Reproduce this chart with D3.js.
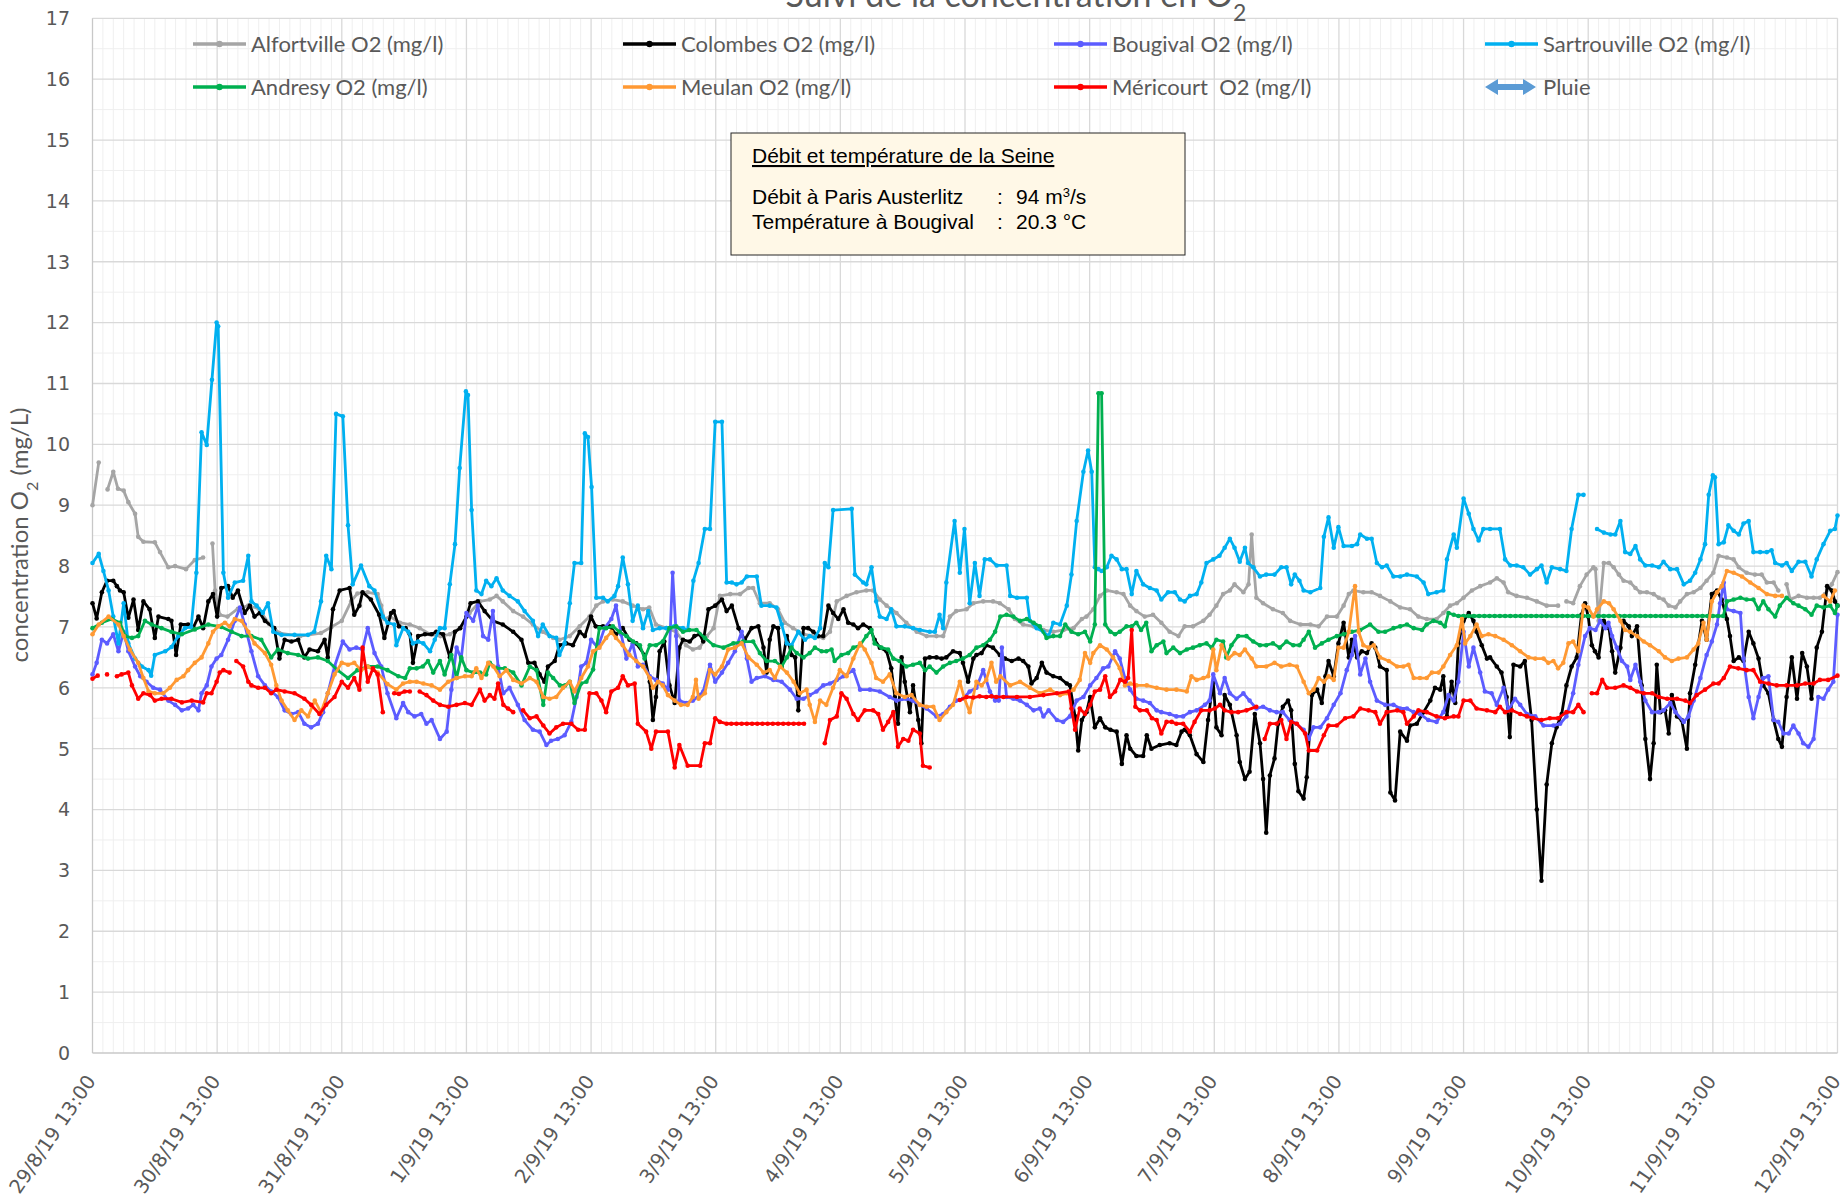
<!DOCTYPE html>
<html>
<head>
<meta charset="utf-8">
<script src="https://cdn.jsdelivr.net/npm/d3@7"></script>
<style>
  body { margin: 0; background: #fff; }
  svg { display: block; }
</style>
</head>
<body>
<script>
/*
------------------------------
DATA: hours after 29/8/19 13:00, O2 in mg/l (null = gap)
------------------------------
*/
const dayLabels = ["29/8/19 13:00","30/8/19 13:00","31/8/19 13:00","1/9/19 13:00","2/9/19 13:00",
  "3/9/19 13:00","4/9/19 13:00","5/9/19 13:00","6/9/19 13:00","7/9/19 13:00","8/9/19 13:00",
  "9/9/19 13:00","10/9/19 13:00","11/9/19 13:00","12/9/19 13:00"]
const yTicks = [0,1,2,3,4,5,6,7,8,9,10,11,12,13,14,15,16,17]
const seriesNames = ["Alfortville O2 (mg/l)","Colombes O2 (mg/l)","Bougival O2 (mg/l)","Sartrouville O2 (mg/l)",
  "Andresy O2 (mg/l)","Meulan O2 (mg/l)","Méricourt  O2 (mg/l)"]

const alfortville = [[0,9.0],[1.2,9.7],[2,null],[2.9,9.26],[4,9.55],[4.9,9.27],[6,9.24],[6.9,9.05],[8.2,8.86],[8.8,8.48],[9.8,8.4],[12,8.39],[13,8.23],[14.6,7.98],[15.9,8.0],[18,7.95],[19.7,8.1],[21.3,8.14],[22.2,null],[23.1,8.37],[23.6,7.6],[24.5,7.2],[26,7.17],[28,7.3],[30,7.35],[32,7.3],[34,7.05],[36,6.9],[40,6.85],[44,6.9],[46,7.0],[48,7.1],[49.8,7.42],[51,7.55],[53,7.57],[54.9,7.54],[55.6,7.35],[56.2,7.13],[57.3,7.17],[59.2,7.07],[61.1,7.04],[63,6.98],[65,6.88],[67,6.85],[68.8,6.88],[70.7,6.98],[72.6,7.23],[74.6,7.42],[76.5,7.45],[77.8,7.51],[79,7.42],[81,7.26],[82.9,7.17],[84.8,7.04],[86.7,6.92],[88.7,6.82],[89.9,6.79],[91.9,6.85],[93.8,7.01],[95.7,7.17],[97,7.35],[98.3,7.42],[100.2,7.45],[102.1,7.42],[104,7.35],[106,7.29],[107.2,7.32],[108.5,7.04],[110.5,6.98],[112.4,6.92],[114.3,6.7],[115.6,6.63],[116.9,6.66],[118.3,6.85],[119.6,6.98],[120.8,7.51],[122.8,7.54],[124.7,7.54],[126.3,7.64],[127.2,7.64],[128.5,7.39],[130.4,7.39],[132,7.29],[133.3,7.07],[134.9,6.98],[136.9,6.88],[138.8,6.85],[140.7,6.82],[142,6.92],[143.3,7.42],[145.2,7.51],[147.1,7.57],[149,7.6],[150.3,7.6],[151.6,7.45],[152.9,7.35],[154.8,7.23],[156.7,7.07],[158.7,6.92],[160.6,6.85],[162.5,6.85],[163.8,6.85],[165.1,7.17],[166.3,7.26],[168.3,7.29],[169.6,7.39],[171.5,7.42],[173.4,7.42],[174.7,7.39],[176.4,7.29],[177.6,7.13],[179.2,7.04],[181.2,7.01],[183.1,6.95],[185,6.92],[187,6.95],[188.9,6.98],[190.5,7.13],[191.4,7.17],[192.7,7.29],[194,7.51],[195.3,7.6],[197.2,7.57],[198.5,7.54],[199.8,7.35],[201,7.26],[202.6,7.17],[204.2,7.2],[205.8,7.07],[207.4,6.92],[209.1,6.85],[210.3,7.01],[211.9,7.01],[213.9,7.1],[215.1,7.2],[216.4,7.35],[217.7,7.54],[219,7.6],[219.9,7.7],[221.6,7.57],[222.6,7.7],[223.2,8.52],[223.6,7.98],[224.1,7.48],[225.4,7.39],[227.3,7.29],[229.2,7.23],[230.6,7.1],[232.6,7.04],[234.5,7.04],[236.1,7.01],[237.7,7.17],[239.6,7.17],[240.9,7.35],[241.9,7.54],[242.8,7.6],[244.7,7.57],[246.3,7.57],[247.9,7.51],[249.9,7.42],[251.8,7.32],[253.7,7.29],[255.3,7.17],[256.9,7.13],[258.8,7.13],[260.1,7.23],[261.4,7.35],[262.7,7.39],[264,7.48],[265.6,7.6],[267.2,7.67],[269.1,7.73],[270.4,7.8],[271.7,7.73],[272.6,7.57],[274.2,7.51],[276.2,7.48],[278.1,7.42],[280,7.35],[282.2,7.35],[283,null],[283.8,7.42],[285.1,7.39],[286.4,7.67],[287.7,7.86],[289,7.98],[289.4,7.95],[290,7.1],[291,8.05],[292,8.05],[292.9,7.98],[293.9,7.86],[294.8,7.76],[296.1,7.73],[297.1,7.64],[298,7.57],[299.3,7.57],[300.6,7.54],[301.6,7.48],[302.5,7.45],[303.5,7.35],[304.8,7.32],[305.7,7.42],[307,7.54],[308.3,7.57],[309.6,7.64],[310.8,7.76],[312.1,7.89],[313.1,8.17],[314.7,8.14],[316,8.11],[317,7.98],[318.5,7.89],[320.1,7.86],[321.4,7.86],[322.4,7.73],[323.7,7.73],[324.6,7.6],[325.4,null],[326.2,7.7],[326.9,7.45],[328.5,7.51],[330.1,7.48],[331.4,7.48],[332.6,7.48],[333.6,7.54],[334.9,7.7],[336,7.9]]

const colombes = [[0,7.39],[0.8,7.14],[1.8,7.57],[2.8,7.76],[4,7.76],[4.7,7.67],[5.3,7.6],[6,7.57],[6.9,7.15],[7.9,7.45],[8.8,6.95],[9.8,7.42],[11,7.29],[12,6.82],[12.7,7.17],[14.6,7.13],[15.2,7.1],[16.1,6.54],[17,7.04],[18.4,7.04],[19.4,6.99],[20.4,7.17],[21.3,6.98],[22.3,7.42],[23.2,7.54],[24,7.17],[24.8,7.64],[26.1,7.67],[27,7.48],[28,7.6],[29.3,7.23],[30.3,7.35],[31.2,7.17],[32.2,7.23],[33.2,7.1],[35,6.98],[36,6.48],[37,6.79],[38.3,6.76],[39.6,6.79],[40.8,6.5],[41.8,6.63],[43.4,6.6],[44.7,6.79],[45.3,6.5],[46.3,7.29],[47.6,7.6],[49.5,7.64],[50.4,7.2],[51.4,7.35],[52,7.57],[53.6,7.45],[55.2,7.2],[56.2,6.82],[57.5,7.23],[58,7.26],[59,7.01],[60.3,6.98],[61.1,6.88],[61.7,6.41],[62.7,6.85],[64,6.88],[65.3,6.88],[66.2,6.92],[67.5,6.88],[68.8,6.5],[69.8,6.92],[70.8,6.98],[72,7.17],[72.8,7.39],[74.2,7.42],[75.5,7.26],[77.1,7.1],[79,7.04],[81,6.92],[82.6,6.79],[83.9,6.41],[85.1,6.41],[86.1,6.22],[87,6.1],[87.7,6.35],[89,6.44],[89.9,6.7],[91.2,6.73],[92.5,6.7],[93.8,6.92],[94.8,6.85],[96,7.17],[96.9,7.01],[98.3,7.01],[99.6,7.01],[100.8,6.88],[102.1,6.98],[103.4,6.79],[104.7,6.73],[106.3,6.54],[107.3,6.1],[107.9,5.47],[108.5,5.85],[109.2,6.6],[110.1,6.76],[111.1,6.04],[112.1,5.75],[113,6.66],[113.7,6.79],[115,6.76],[115.9,6.85],[116.9,6.88],[117.6,6.76],[118.6,7.29],[119.9,7.35],[121.2,7.45],[122.1,7.26],[123.1,7.35],[124.4,6.98],[125.6,6.79],[126.9,6.98],[128.2,7.01],[129.2,6.66],[129.8,6.25],[130.4,6.79],[131.1,7.01],[132,6.98],[132.7,6.35],[133.7,6.85],[134.6,6.54],[135.3,6.5],[135.9,5.63],[136.9,6.98],[137.8,6.98],[138.8,6.92],[139.7,6.85],[140.7,6.85],[141.7,7.35],[142.6,7.23],[143.6,7.13],[144.6,7.29],[145.5,7.07],[146.5,7.04],[147.4,6.98],[148.4,7.04],[149.7,6.98],[150.6,6.79],[151.6,6.66],[152.9,6.6],[153.8,6.32],[154.5,5.85],[155.1,5.41],[155.8,6.5],[156.4,6.1],[157.4,5.6],[158,6.04],[159,5.47],[159.6,5.09],[160.3,6.48],[161.2,6.5],[162.5,6.5],[163.5,6.48],[164.4,6.5],[165.7,6.6],[167,6.57],[167.6,6.41],[168.6,6.1],[169.6,6.48],[170.2,6.54],[171.2,6.57],[172.1,6.7],[173.4,6.66],[174.7,6.54],[175.7,6.48],[177,6.44],[178.3,6.48],[179.2,6.44],[180.2,6.35],[180.8,6.07],[181.8,6.16],[182.8,6.41],[183.7,6.25],[185,6.19],[186.3,6.16],[187.6,6.07],[188.2,6.04],[189.2,5.53],[189.8,4.97],[190.5,5.47],[191.4,5.6],[192.1,5.85],[193,5.35],[194,5.5],[195,5.35],[196,5.31],[197.2,5.28],[198.2,4.75],[199.1,5.22],[199.8,5.0],[201,4.88],[202.3,4.88],[203,5.22],[203.9,5.0],[205.5,5.06],[207.4,5.09],[208.7,5.06],[209.7,5.28],[210.3,5.31],[211.3,5.22],[212.6,4.91],[213.9,4.78],[214.8,5.47],[215.8,6.1],[216.4,5.35],[217.4,5.22],[218,5.88],[219,5.72],[220.3,5.22],[220.9,4.78],[221.9,4.5],[222.8,4.62],[223.8,5.57],[224.8,5.09],[225.4,4.5],[226,3.62],[226.7,4.56],[227.6,4.84],[228.3,5.41],[229.2,5.69],[230.2,5.79],[230.8,5.63],[231.5,4.75],[232.2,4.3],[233.2,4.18],[233.8,4.53],[234.8,5.88],[235.8,5.97],[236.7,5.75],[237.4,6.19],[238,6.44],[239,6.19],[239.9,6.73],[240.9,7.07],[241.9,6.5],[242.5,6.79],[243.5,6.5],[244.4,6.6],[245.4,6.57],[246.3,6.73],[247,6.66],[247.9,6.35],[249.2,6.29],[249.9,4.28],[250.8,4.15],[251.8,5.28],[253.1,5.13],[253.7,5.38],[255,5.41],[256.3,5.6],[257.6,5.79],[258.5,6.0],[259.5,5.97],[260.1,6.19],[260.8,5.53],[261.7,6.1],[262.4,5.75],[263,6.73],[264,7.1],[265,7.23],[265.9,7.1],[266.5,6.92],[267.5,6.7],[268.5,6.48],[269.1,6.5],[270.4,6.35],[271.3,6.25],[272.3,5.85],[272.9,5.19],[273.6,6.38],[274.9,6.35],[275.8,6.44],[277.1,5.47],[278.1,4.0],[279,2.83],[280,4.41],[281,5.09],[281.9,5.35],[282.9,5.57],[283.8,6.04],[284.8,6.35],[285.8,6.5],[286.7,7.2],[287.4,7.39],[288,7.17],[288.7,6.7],[289.3,6.6],[290,6.5],[291,7.1],[292,6.98],[292.6,6.6],[293.2,6.25],[294.2,6.66],[294.8,7.1],[295.8,7.01],[296.4,6.85],[297.4,7.01],[298.3,6.04],[299,5.16],[299.9,4.5],[300.6,5.09],[301.2,6.38],[301.9,5.6],[302.8,5.63],[303.5,5.25],[304.1,5.88],[305.1,5.53],[306,5.47],[307,5.0],[307.6,5.91],[308.6,6.38],[309.9,7.1],[310.8,6.79],[311.8,7.54],[312.8,7.6],[313.7,7.45],[314.7,7.13],[315.3,6.85],[316,6.44],[317,6.5],[317.9,6.44],[318.9,6.92],[319.8,6.73],[320.8,6.48],[321.7,6.04],[322.7,5.91],[323.7,5.47],[324.6,5.16],[325.3,5.03],[326.2,5.85],[327.2,6.5],[328.2,5.82],[329.2,6.57],[330.1,6.35],[331,5.82],[332,6.66],[333,6.92],[334,7.67],[334.9,7.6],[335.5,7.42],[336,7.35]]

const bougival = [[0,6.22],[0.8,6.41],[1.8,6.79],[2.8,6.73],[4,6.88],[5,6.6],[6,6.92],[6.9,6.6],[8.2,6.35],[9.2,6.19],[10.4,6.1],[11.7,6.0],[13,5.97],[14.6,5.79],[15.9,5.72],[17.2,5.63],[18.4,5.66],[19.4,5.72],[20.4,5.63],[21,5.91],[22,6.04],[22.9,6.35],[23.9,6.48],[24.8,6.54],[26.1,6.79],[27.4,7.1],[28.4,7.32],[29.3,7.04],[30.6,6.6],[31.9,6.19],[33.2,6.04],[34.4,5.94],[35.7,5.85],[37,5.63],[38.3,5.57],[39.6,5.6],[40.8,5.41],[42.1,5.35],[43.4,5.41],[44.4,5.6],[45.3,5.91],[46.6,6.35],[48.2,6.76],[49.5,6.63],[50.8,6.66],[52,6.63],[53,6.98],[54.3,6.57],[55.6,6.35],[56.8,5.91],[58.5,5.5],[59.8,5.75],[60.8,5.6],[62,5.53],[63.3,5.57],[64.3,5.41],[65.3,5.47],[66.9,5.16],[68.2,5.28],[69.1,5.97],[70.1,6.66],[71,6.48],[72,7.23],[73.3,7.1],[74.2,7.35],[75.2,6.85],[76.2,6.79],[77.1,7.26],[78.1,6.35],[79.1,5.91],[80.3,6.0],[81.9,5.72],[83.2,5.47],[84.8,5.31],[86.1,5.28],[87.4,5.06],[88.3,5.13],[89.6,5.16],[90.9,5.22],[92.2,5.44],[93.2,5.85],[94.1,6.35],[95.1,6.41],[96,6.79],[97.3,6.66],[98.6,6.98],[99.9,7.13],[100.8,7.35],[101.8,6.88],[102.8,6.48],[104,6.73],[105,6.35],[106,6.38],[107.3,6.19],[108.5,6.13],[109.8,6.07],[110.8,5.97],[111.7,7.89],[112.4,6.85],[113,5.79],[114.3,5.75],[115.6,5.79],[116.9,5.88],[117.6,5.94],[118.9,6.38],[119.9,6.1],[121.2,6.25],[122.4,6.41],[123.7,6.6],[125,6.92],[126,6.48],[126.9,6.1],[127.9,6.16],[129.5,6.19],[131.1,6.13],[132.7,6.1],[134.3,5.97],[135.6,5.82],[136.9,5.82],[138.1,5.88],[139.4,5.94],[140.7,6.04],[142,6.07],[143.3,6.13],[144.6,6.19],[146.5,6.29],[147.8,5.97],[149.7,5.97],[151.6,5.94],[153.5,5.85],[154.8,5.79],[156.7,5.82],[157.9,5.79],[159.3,5.72],[160.6,5.66],[162.5,5.53],[163.8,5.57],[165.1,5.69],[166.3,5.79],[167.6,5.82],[168.9,5.94],[170.2,6.0],[171.5,6.29],[172.8,5.94],[173.8,5.79],[174.5,5.79],[175.1,6.66],[176,5.85],[177.3,5.82],[178.6,5.79],[179.9,5.72],[181.2,5.63],[182.4,5.66],[183.1,5.53],[184.1,5.63],[185.7,5.47],[186.9,5.44],[188.2,5.53],[189.5,5.79],[190.8,5.85],[192.1,6.04],[193.3,6.16],[194.6,6.32],[195.6,6.35],[196.9,6.6],[197.8,6.48],[198.8,6.16],[199.8,5.97],[201,5.82],[202.3,5.79],[203.6,5.75],[204.9,5.63],[205.8,5.6],[207.4,5.57],[208.7,5.53],[210,5.53],[211.3,5.6],[212.6,5.63],[214.2,5.72],[215.1,5.79],[215.8,6.22],[217.1,5.91],[218,6.16],[219,5.91],[220.3,5.82],[221.6,5.91],[222.8,5.79],[224.1,5.66],[225.4,5.69],[226.7,5.63],[228,5.6],[229.2,5.6],[230.5,5.47],[231.8,5.41],[233.2,5.31],[234.2,5.16],[235.1,5.35],[236.4,5.35],[237.7,5.5],[239,5.72],[240.3,5.91],[241.5,6.29],[242.5,6.54],[243.1,6.85],[244.1,6.22],[245.1,6.48],[246,6.1],[247.3,5.79],[248.9,5.72],[250.5,5.72],[251.8,5.66],[253.1,5.66],[254.4,5.6],[255.6,5.57],[257.2,5.47],[258.8,5.44],[260.1,5.6],[261.1,5.88],[262.1,5.79],[263,6.1],[264,6.92],[265,6.35],[265.9,6.66],[267.2,6.25],[268.1,5.94],[269.4,5.91],[270.4,5.72],[271.7,6.0],[272.6,5.63],[273.9,5.82],[274.9,5.72],[276.2,5.57],[277.8,5.53],[279.4,5.38],[281.3,5.38],[282.6,5.41],[283.8,5.53],[285.1,5.91],[286.1,6.38],[287.4,6.85],[288.3,6.98],[289.4,6.95],[290.3,7.1],[291.3,6.98],[291.9,7.07],[292.6,6.85],[293.5,6.66],[294.5,6.44],[295.5,6.35],[296.1,6.13],[297.1,6.38],[298,6.1],[299,5.79],[300.3,5.6],[301.6,5.6],[302.5,5.63],[303.8,5.75],[304.8,5.6],[306.4,5.44],[307.3,5.53],[308.3,5.79],[309.6,6.16],[310.8,6.54],[311.8,6.76],[312.8,7.04],[313.4,7.39],[314.1,7.73],[314.7,7.29],[316,7.26],[317.3,7.23],[317.9,6.48],[318.9,5.85],[319.8,5.5],[320.8,5.85],[321.7,6.16],[322.7,6.19],[323.7,5.47],[324.6,5.44],[325.6,5.25],[326.6,5.25],[327.5,5.38],[328.5,5.25],[329.4,5.09],[330.4,5.03],[331.4,5.16],[332.3,5.85],[333.3,5.82],[334.2,5.97],[335.2,6.1],[336,7.2]]

const sartrouville = [[0,8.05],[1.2,8.2],[2.1,7.92],[3.1,7.6],[4,7.17],[5,6.73],[6,7.39],[6.9,6.73],[8.2,6.48],[9.5,6.35],[10.8,6.29],[11.3,6.2],[12,6.54],[14,6.6],[15.2,6.67],[16.5,6.85],[17.8,6.98],[19,7.0],[20,7.89],[21,10.2],[22,9.99],[23,11.06],[23.9,12.0],[24.2,11.94],[25.2,7.89],[26.1,7.48],[27.4,7.73],[29,7.76],[30,8.17],[30.6,7.42],[31.6,7.35],[32.8,7.23],[33.8,7.39],[34.8,6.92],[36.4,6.87],[38.9,6.87],[41.5,6.87],[42.7,6.92],[44,7.42],[45,8.17],[46,7.95],[46.9,10.5],[48.2,10.46],[49.2,8.67],[50.1,7.7],[51.7,8.01],[53.3,7.67],[54.3,7.6],[55.9,7.17],[56.8,7.07],[58.1,7.04],[58.5,6.7],[59.8,6.98],[60.8,6.92],[61.7,6.73],[62.7,6.76],[63.7,6.73],[65,6.6],[65.9,6.79],[66.9,6.98],[67.8,6.98],[68.8,7.7],[69.8,8.36],[70.7,9.61],[71.9,10.87],[72.3,10.81],[73,8.92],[73.9,7.6],[74.9,7.54],[75.8,7.76],[76.8,7.67],[77.8,7.8],[79,7.6],[80.3,7.51],[81.9,7.42],[83.2,7.26],[84.8,7.1],[85.8,6.85],[86.7,7.04],[88,6.85],[89.3,6.82],[89.9,6.54],[90.9,6.73],[91.9,7.39],[92.8,8.05],[94.1,8.05],[94.8,10.18],[95.4,10.12],[96.1,9.3],[97,7.48],[98.3,7.48],[99.2,7.42],[100.5,7.51],[101.2,7.67],[102.1,8.14],[103.1,7.7],[104,7.1],[105,7.35],[106,6.98],[107,7.26],[107.9,6.95],[109.2,6.98],[110.5,6.98],[112,7.01],[113.7,6.98],[114.6,6.95],[115.7,7.76],[116.7,8.05],[117.9,8.61],[118.9,8.61],[119.9,10.37],[121.2,10.37],[122.1,7.73],[123.1,7.73],[124,7.7],[125,7.73],[126,7.83],[127.9,7.83],[128.8,7.35],[130.4,7.35],[131.7,7.32],[132.7,7.04],[133.7,6.73],[134.6,6.7],[135.9,6.92],[137.2,6.79],[138.1,6.85],[139.1,6.82],[140.1,6.98],[141,8.05],[141.7,7.98],[142.6,8.92],[146.2,8.94],[146.8,7.86],[148.4,7.73],[149,7.7],[150,7.98],[150.9,7.42],[151.6,7.17],[152.9,7.13],[153.8,7.29],[154.8,7.01],[156.4,7.01],[158,6.98],[159.3,6.95],[161.2,6.92],[162.2,6.92],[163.1,7.2],[163.8,6.98],[164.4,7.73],[166,8.74],[167,7.89],[167.9,8.61],[168.9,7.39],[169.9,8.05],[170.8,7.51],[171.8,8.11],[172.8,8.11],[174.1,8.01],[176,8.01],[176.7,7.51],[178,7.48],[179.9,7.48],[180.5,7.1],[181.8,6.98],[183.1,6.92],[184.1,6.85],[185,7.07],[186.3,7.04],[187.6,7.35],[188.5,7.86],[189.5,8.74],[190.8,9.55],[191.7,9.9],[192.4,9.55],[193,7.98],[193.7,7.95],[194.3,7.92],[195.3,7.98],[196.2,8.17],[197.2,8.11],[198.2,7.95],[199.1,7.95],[200.1,7.54],[201,7.92],[202.3,7.7],[203.6,7.64],[204.9,7.6],[205.8,7.45],[207.1,7.57],[208.4,7.57],[209.4,7.45],[210.3,7.42],[211.3,7.51],[212.6,7.54],[213.5,7.73],[214.5,8.05],[215.8,8.11],[217,8.17],[218,8.3],[219,8.45],[219.9,8.3],[220.9,8.07],[221.9,8.3],[222.5,8.05],[223.5,7.98],[224.8,7.83],[226,7.86],[227.6,7.86],[228.9,7.98],[229.9,7.98],[230.8,7.7],[231.5,7.86],[232.4,7.76],[233.2,7.6],[234.5,7.57],[236.4,7.64],[237.1,8.48],[238,8.8],[239,8.3],[239.9,8.64],[240.9,8.33],[242.5,8.33],[243.5,8.36],[244.1,8.52],[245.4,8.45],[246.3,8.45],[247.3,8.05],[248.3,7.98],[249.2,8.01],[250.5,7.83],[251.8,7.83],[253.1,7.86],[255,7.83],[256.3,7.73],[257.2,7.54],[258.8,7.57],[260.1,7.6],[260.8,8.11],[262.1,8.52],[262.7,8.3],[264,9.11],[265,8.86],[265.9,8.61],[266.9,8.42],[267.8,8.61],[269.1,8.61],[271,8.61],[272,8.11],[273,8.01],[274.2,8.01],[275.5,7.98],[276.8,7.86],[278.1,7.95],[279,8.01],[280,7.73],[281,7.98],[282.6,7.95],[283.8,7.92],[284.8,8.61],[286.1,9.17],[287.1,9.17],[288,null],[289.7,8.61],[291,8.55],[292.3,8.52],[293.2,8.52],[294.2,8.74],[295.1,8.23],[296.1,8.2],[297.1,8.33],[298,8.11],[299,8.01],[300.3,8.01],[301.6,7.98],[302.5,8.07],[303.8,7.95],[305.1,7.95],[306.4,7.7],[307.6,7.76],[308.6,7.89],[309.6,8.11],[310.5,8.36],[311.2,9.17],[312,9.49],[312.4,9.46],[313.1,8.36],[314.1,8.39],[315,8.67],[316,8.58],[317,8.52],[317.9,8.7],[318.9,8.74],[319.8,8.23],[321.1,8.23],[322.4,8.23],[323.3,8.26],[324,8.05],[325.3,8.01],[326.2,8.05],[327.2,7.92],[328.5,8.07],[329.8,8.07],[331,7.83],[332,8.11],[333.3,8.36],[334.6,8.58],[335.5,8.61],[336,8.83]]

const andresy = [[0,6.98],[1.8,7.07],[3.7,7.13],[5.3,7.07],[6.3,6.85],[7.6,6.82],[8.8,6.85],[10.1,7.1],[11.4,7.04],[13.3,6.98],[15.2,6.92],[17.2,6.88],[19.7,6.96],[22.3,7.04],[24.8,7.0],[26.8,6.92],[28.7,6.85],[30.6,6.85],[32.5,6.79],[34.4,6.5],[35.7,6.63],[37.6,6.57],[39.6,6.54],[41.5,6.48],[43.4,6.5],[45.3,6.44],[47.2,6.29],[49.2,6.16],[51,6.29],[53,6.35],[54.9,6.35],[56.8,6.29],[58.9,6.19],[60.2,6.16],[61.1,6.32],[62.4,6.32],[63.6,6.35],[64.6,6.44],[65.6,6.25],[66.9,6.44],[67.8,6.22],[69.1,6.54],[70.1,6.16],[71,6.5],[72,6.29],[73.3,6.25],[74.6,6.25],[75.8,6.22],[76.5,6.41],[77.8,6.32],[79.4,6.32],[81,6.25],[82.6,6.04],[84.2,6.35],[85.5,6.29],[86.8,5.72],[87.7,6.25],[88.7,6.16],[90,6.04],[91,6.04],[91.9,6.1],[92.8,5.75],[94.1,6.07],[95.1,6.1],[96.4,6.3],[97.6,6.98],[98.9,6.98],[100.2,7.01],[101.5,6.92],[102.8,6.85],[104.1,6.76],[105.4,6.7],[106.3,6.48],[107.3,6.7],[108.5,6.7],[109.8,6.76],[111.1,6.98],[112.4,7.01],[113.7,6.92],[114.9,6.95],[116.3,6.95],[117.9,6.82],[119.6,6.7],[121.5,6.66],[123.4,6.73],[125.3,6.76],[127.2,6.76],[128.5,6.57],[129.8,6.44],[131.4,6.44],[132.7,6.35],[133.7,6.5],[134.6,6.66],[135.6,6.57],[136.9,6.5],[138.1,6.57],[139.1,6.66],[140.4,6.6],[141.3,6.6],[142.3,6.63],[142.9,6.44],[144.2,6.54],[145.5,6.57],[146.5,6.66],[147.8,6.7],[149,6.85],[150,6.95],[150.6,6.73],[151.9,6.66],[153.2,6.63],[154.2,6.48],[155.4,6.44],[156.7,6.35],[158,6.38],[159.3,6.41],[160.3,6.29],[161.2,6.35],[162.5,6.25],[163.8,6.35],[165.1,6.41],[166.3,6.44],[167.6,6.48],[168.9,6.54],[170.2,6.66],[171.5,6.7],[172.8,6.79],[173.8,6.92],[174.8,7.17],[176,7.2],[177.3,7.17],[178.6,7.1],[179.9,7.13],[181.2,7.07],[182.4,7.01],[183.7,6.82],[185,6.85],[186.3,6.85],[187.3,7.04],[188.5,6.92],[189.8,6.88],[191.1,6.92],[192.1,6.76],[193,7.04],[193.7,10.84],[194.3,10.84],[195,7.04],[196,6.92],[196.9,6.88],[197.8,6.92],[199.1,7.01],[200.1,7.01],[201,7.07],[201.9,6.95],[202.9,7.07],[203.9,6.6],[204.9,6.7],[206.2,6.76],[206.8,6.57],[208.1,6.66],[209.4,6.57],[210.7,6.63],[211.9,6.66],[213.2,6.7],[214.5,6.73],[215.5,6.66],[216.4,6.79],[217.7,6.76],[218.3,6.5],[219.3,6.7],[220.6,6.85],[222.2,6.85],[223.5,6.76],[224.8,6.7],[226,6.7],[227.3,6.73],[228.6,6.66],[229.9,6.76],[231.2,6.7],[232.4,6.7],[233.2,6.79],[234.2,6.92],[235.4,6.66],[236.7,6.73],[238,6.79],[239.6,6.85],[240.9,6.88],[242.5,6.92],[244.1,6.95],[246,7.04],[247.6,6.92],[248.9,6.92],[250.5,6.98],[251.8,7.01],[253.1,7.04],[254.4,6.98],[256,6.95],[256.9,7.04],[258.2,7.1],[259.5,7.07],[260.4,7.01],[261.1,7.23],[262.1,7.2],
  [263,7.18],[264,7.18],[265,7.18],[266,7.18],[267,7.18],[268,7.18],[269,7.18],[270,7.18],[271,7.18],[272,7.18],[273,7.18],[274,7.18],[275,7.18],[276,7.18],[277,7.18],[278,7.18],[279,7.18],[280,7.18],[281,7.18],[282,7.18],[283,7.18],[284,7.18],[285,7.18],[286,7.18],[287,7.18],[288,7.18],[289,7.18],[290,7.18],[291,7.18],[292,7.18],[293,7.18],[294,7.18],[295,7.18],[296,7.18],[297,7.18],[298,7.18],[299,7.18],[300,7.18],[301,7.18],[302,7.18],[303,7.18],[304,7.18],[305,7.18],[306,7.18],[307,7.18],[308,7.18],[309,7.18],[310,7.18],[311,7.18],[312,7.18],[313,7.18],[314,7.18],
  [314.7,7.42],[316,7.45],[317.3,7.48],[318.5,7.45],[319.8,7.45],[320.8,7.29],[321.7,7.42],[322.7,7.29],[324,7.17],[324.9,7.35],[326.2,7.48],[327.5,7.39],[328.5,7.35],[329.8,7.29],[331,7.2],[332,7.35],[333.3,7.32],[334.6,7.35],[335.5,7.23],[336,7.35]]

const meulan = [[0,6.88],[1.2,7.04],[3.1,7.17],[5,7.04],[6,6.85],[7.2,6.63],[8.8,6.41],[9.8,6.16],[10.8,5.94],[12,5.91],[13.6,5.91],[14.9,6.0],[16.2,6.13],[17.5,6.19],[18.4,6.29],[19.7,6.41],[21,6.5],[22.3,6.73],[23.2,6.92],[24.2,7.01],[25.5,7.07],[26.4,7.01],[27.4,7.13],[28.7,7.1],[30,6.92],[31.2,6.73],[33.2,6.57],[34.4,6.38],[35.4,6.04],[36.4,5.79],[37.6,5.63],[38.9,5.47],[40.2,5.63],[41.5,5.53],[42.8,5.79],[44,5.6],[45.3,5.91],[46.6,6.22],[48,6.41],[49.2,6.38],[50.4,6.41],[51.7,6.29],[53,6.35],[54.9,6.25],[56.8,6.06],[58.5,5.97],[59.8,6.07],[61.1,6.1],[62.4,6.1],[63.7,6.07],[65.3,6.04],[66.9,5.97],[68.5,6.1],[70.1,6.16],[71.7,6.19],[73,6.19],[73.9,6.32],[74.9,6.16],[76.2,6.41],[77.2,6.35],[78.4,6.19],[79.7,6.29],[81,6.13],[82.6,6.07],[84.2,6.16],[85.5,6.1],[86.8,5.85],[88,5.82],[89.3,5.85],[90.6,6.0],[91.9,6.1],[92.8,5.94],[94.1,6.16],[95.4,6.35],[96.4,6.6],[97.6,6.66],[98.9,6.82],[99.9,6.92],[100.8,6.82],[102.1,6.7],[103.4,6.54],[104.7,6.44],[106,6.35],[107.3,6.16],[107.9,6.0],[108.9,6.1],[109.8,6.04],[110.8,5.88],[112.1,5.79],[113.3,5.72],[114.6,5.72],[115.6,5.85],[116.2,6.13],[116.7,5.82],[117.9,5.91],[118.9,6.29],[119.9,6.22],[121.2,6.35],[122.4,6.63],[123.7,6.66],[125,6.73],[126.3,6.5],[127.9,6.38],[129.2,6.25],[130.4,6.29],[131.4,6.16],[132.4,6.35],[133.7,6.25],[135,6.1],[136.2,5.91],[137.5,5.97],[138.1,5.72],[139.1,5.44],[140.1,5.79],[141.3,5.72],[142.6,6.0],[143.9,6.29],[145.2,6.19],[146.5,6.48],[147.8,6.73],[148.7,6.63],[150,6.41],[150.9,6.16],[152.2,6.1],[153.5,6.22],[154.8,5.91],[156.4,5.85],[157.7,5.88],[159.3,5.72],[160.6,5.69],[161.9,5.69],[163.1,5.47],[164.4,5.6],[165.7,5.72],[167,6.1],[167.9,5.82],[168.9,5.6],[170.2,6.1],[171.2,6.04],[172.1,6.13],[173.1,6.41],[174,6.1],[174.8,6.19],[176.7,6.04],[178.6,6.1],[180.5,6.0],[182.4,5.91],[184.4,5.97],[186.3,5.88],[187.6,5.91],[188.9,5.97],[190.1,6.13],[191.1,6.57],[192.1,6.41],[192.7,6.57],[194,6.7],[195.3,6.63],[196.5,6.5],[197.8,6.32],[198.8,6.04],[199.8,6.07],[201,6.04],[203,6.04],[204.9,6.0],[206.8,5.97],[208.7,5.97],[210.7,5.94],[211.6,6.19],[212.6,6.13],[213.9,6.16],[214.8,6.19],[215.8,6.63],[216.4,6.29],[217.4,6.7],[218.7,6.48],[219.9,6.57],[220.9,6.54],[221.9,6.63],[223.2,6.48],[224.1,6.35],[226,6.35],[227.6,6.41],[228.9,6.35],[230.5,6.38],[231.9,6.35],[233.2,6.1],[234.2,5.91],[235.1,5.97],[236.1,6.16],[237.1,6.1],[238,6.19],[239,6.13],[239.9,6.66],[240.9,6.66],[241.9,6.92],[243.1,7.67],[243.8,6.92],[244.7,6.7],[245.7,6.66],[246.7,6.7],[247.9,6.5],[249.6,6.44],[251.2,6.35],[252.4,6.35],[253.4,6.38],[254.4,6.16],[255.6,6.16],[256.9,6.16],[257.9,6.25],[259.2,6.25],[260.1,6.35],[261.4,6.54],[262.7,6.7],[263.7,7.13],[264.3,6.73],[265.3,6.85],[266.5,7.04],[267.5,6.85],[268.8,6.88],[270.1,6.85],[271.7,6.79],[273.3,6.7],[274.9,6.6],[276.5,6.5],[277.8,6.48],[279.4,6.48],[280.3,6.41],[281.3,6.44],[282.2,6.32],[283.2,6.41],[284.2,6.73],[285.1,6.76],[286.1,6.6],[287.1,7.35],[288,7.32],[289,7.17],[289.7,7.29],[291,7.42],[292,7.39],[292.9,7.29],[294.2,7.1],[295.1,6.95],[296.1,6.92],[297.4,6.85],[298.7,6.76],[299.9,6.7],[301.6,6.6],[302.8,6.5],[304.1,6.44],[305.4,6.48],[307,6.5],[308.3,6.63],[309.2,6.73],[310.2,7.07],[310.8,6.79],[311.8,7.42],[312.8,7.57],[313.7,7.67],[314.7,7.92],[316,7.89],[317.6,7.83],[319.2,7.73],[320.8,7.64],[322.4,7.54],[324,7.51],[325.3,7.51],[326,null],[333.3,7.51],[334.6,7.42],[335.5,7.6]]

const mericourt = [[0,6.15],[1,6.2],[1.6,null],[2.8,6.22],[3.4,null],[4.7,6.19],[5.6,6.22],[6.9,6.25],[7.6,6.04],[8.8,5.82],[9.8,5.91],[11.1,5.88],[12,5.79],[13.3,5.82],[15.2,5.82],[17.2,5.76],[19.1,5.79],[21.3,5.76],[22,5.91],[22.9,5.91],[23.9,6.1],[24.5,6.25],[25.2,6.29],[26.4,6.25],[27,null],[27.7,6.44],[29,6.35],[30,6.1],[30.6,6.04],[31.9,6.0],[33.2,6.0],[34.4,5.91],[35.4,5.97],[37,5.94],[38.9,5.91],[40.8,5.82],[42.1,5.72],[43.7,5.57],[45,5.72],[46.6,5.85],[48,6.1],[49.2,6.0],[50.4,6.16],[51.4,5.97],[52,6.66],[53,6.1],[54,6.32],[54.9,6.22],[55.9,5.6],[57,null],[58.1,5.91],[59,5.9],[60.1,5.94],[61.1,5.94],[62,null],[63,5.94],[64.3,5.88],[65.6,5.79],[66.9,5.72],[68.5,5.69],[70.1,5.72],[71.7,5.75],[73,5.72],[74.6,5.97],[75.5,5.79],[76.5,5.88],[77.4,5.82],[78.1,6.07],[79.1,5.72],[80,5.66],[81,5.6],[82,null],[82.9,5.63],[84.2,5.5],[85.5,5.53],[86.8,5.38],[88,5.25],[89.3,5.35],[90.6,5.41],[92.2,5.41],[93.5,5.31],[94.8,5.31],[95.7,5.91],[97,5.91],[98,5.79],[98.9,5.6],[99.9,5.94],[101.2,6.0],[102.1,6.19],[103.1,6.04],[104.4,6.07],[105,5.41],[106.6,5.28],[107.6,5.0],[108.5,5.28],[110.8,5.28],[112.1,4.69],[113,5.06],[114.6,4.72],[117,4.72],[117.9,5.09],[118.9,5.09],[119.9,5.5],[120.8,5.44],[122.1,5.41],
  [123,5.41],[124,5.41],[125,5.41],[126,5.41],[127,5.41],[128,5.41],[129,5.41],[130,5.41],[131,5.41],[132,5.41],[133,5.41],[134,5.41],[135,5.41],[136,5.41],[137,5.41],
  [138,null],[141,5.09],[142,5.47],[143.3,5.53],[144.2,5.91],[145.2,5.82],[146.5,5.57],[147.4,5.47],[148.7,5.63],[150.3,5.63],[151.3,5.57],[152.2,5.31],[153.2,5.44],[154.2,5.6],[155.1,5.03],[156.1,5.16],[157.1,5.13],[158,5.31],[159.3,5.25],[159.9,4.72],[161.2,4.69],[162,null],[167,5.8],[168.3,5.85],[169.6,5.84],[170.8,5.86],[172.1,5.85],[173.1,5.86],[174,5.85],[175.4,5.85],[178,5.85],[180.5,5.85],[183.1,5.88],[185.7,5.91],[188,5.94],[188.5,5.66],[189.2,5.31],[190.1,5.66],[191.1,5.57],[192.1,5.72],[193,5.94],[194,5.97],[195,6.19],[195.9,5.85],[196.9,5.94],[197.9,6.13],[198.8,6.1],[199.4,6.16],[200.1,6.95],[200.8,5.69],[201.7,5.63],[203,5.63],[204,5.5],[204.9,5.47],[205.8,5.25],[206.8,5.44],[207.8,5.44],[208.7,5.41],[210,5.41],[211.3,5.28],[212.2,5.44],[213.5,5.63],[215.1,5.63],[216.1,5.66],[217.1,5.72],[218,5.63],[219.3,5.6],[220.6,5.6],[222.2,5.63],[224.1,5.69],[225,null],[225.7,5.16],[226.7,5.41],[228,5.41],[228.9,5.47],[229.9,5.16],[230.8,5.44],[231.9,5.41],[233.5,5.25],[234.2,4.97],[235.8,4.97],[237.1,5.22],[238,5.38],[239.6,5.38],[241.2,5.5],[242.8,5.53],[244.1,5.66],[245.7,5.63],[247,5.6],[247.9,5.41],[249.2,5.6],[251.2,5.63],[252.4,5.6],[253.1,5.41],[254.4,5.53],[255.3,5.63],[256.9,5.6],[258.8,5.53],[260.4,5.5],[262.1,5.53],[263,5.53],[264,5.79],[265.3,5.79],[266.5,5.66],[268.5,5.63],[270.1,5.6],[271,5.69],[272,5.6],[273.3,5.63],[274.9,5.57],[276.2,5.53],[277.4,5.5],[279,5.47],[280.6,5.5],[282.2,5.5],[283.8,5.6],[285.1,5.6],[286.1,5.72],[287.1,5.6],[287.9,null],[288.7,5.91],[289.7,5.91],[290.7,6.13],[291.6,6.0],[293.2,6.0],[294.8,6.04],[296.1,6.0],[297.4,5.94],[298.7,5.91],[300.3,5.91],[301.6,5.85],[303.2,5.82],[305.1,5.82],[306.7,5.79],[307.6,5.75],[308.9,5.88],[310.5,5.97],[312.1,6.07],[313.1,6.07],[314.1,6.16],[315.3,6.35],[316.9,6.32],[318.5,6.29],[319.8,6.29],[321.1,6.1],[322.7,6.07],[324.3,6.04],[326.2,6.04],[328.2,6.04],[329.8,6.07],[331.4,6.07],[332.6,6.13],[334.2,6.13],[336,6.2]]

const seriesData = [alfortville, colombes, bougival, sartrouville, andresy, meulan, mericourt]
const seriesColors = ["#a5a5a5", "#000000", "#5c5cff", "#00b0f0", "#00b050", "#ff9933", "#ff0000"]

/*
------------------------------
METHOD: set the size of the canvas
------------------------------
*/
const width = 1845
const height = 1201
const margin = { top: 18.3, left: 92.5, right: 7.5, bottom: 148 }

const x = d3.scaleLinear([0, 336], [margin.left, width - margin.right])
const y = d3.scaleLinear([0, 17], [height - margin.bottom, margin.top])

const svg = d3.select("body").append("svg")
  .attr("width", width)
  .attr("height", height)
  .attr("viewBox", [0, 0, width, height])

/*
------------------------------
METHOD: grid
------------------------------
*/
const grid = svg.append("g")
grid.selectAll(".hmin").data(d3.range(0.5, 17, 1)).join("line")
  .attr("x1", x(0)).attr("x2", x(336))
  .attr("y1", d => y(d)).attr("y2", d => y(d))
  .attr("stroke", "#efefef").attr("stroke-width", 1)
grid.selectAll(".vmin").data(d3.range(2, 336, 2).filter(h => h % 24 != 0)).join("line")
  .attr("x1", d => x(d)).attr("x2", d => x(d))
  .attr("y1", y(0)).attr("y2", y(17))
  .attr("stroke", "#efefef").attr("stroke-width", 1)
grid.selectAll(".hmaj").data(yTicks.slice(1)).join("line")
  .attr("x1", x(0)).attr("x2", x(336))
  .attr("y1", d => y(d)).attr("y2", d => y(d))
  .attr("stroke", "#d9d9d9").attr("stroke-width", 1.3)
grid.selectAll(".vmaj").data(d3.range(24, 337, 24)).join("line")
  .attr("x1", d => x(d)).attr("x2", d => x(d))
  .attr("y1", y(0)).attr("y2", y(17))
  .attr("stroke", "#d9d9d9").attr("stroke-width", 1.3)

// axes lines
svg.append("line").attr("x1", x(0)).attr("x2", x(0)).attr("y1", y(0)).attr("y2", y(17))
  .attr("stroke", "#c8c8c8").attr("stroke-width", 1.3)
svg.append("line").attr("x1", x(0)).attr("x2", x(336)).attr("y1", y(0)).attr("y2", y(0))
  .attr("stroke", "#c8c8c8").attr("stroke-width", 1.3)

// y tick labels
svg.append("g").selectAll("text").data(yTicks).join("text")
  .attr("x", 70).attr("y", d => y(d)).attr("dy", "0.36em")
  .attr("text-anchor", "end")
  .style("font", "19px 'DejaVu Sans'").attr("fill", "#595959")
  .text(d => d)

// x tick labels
svg.append("g").selectAll("text").data(dayLabels).join("text")
  .attr("transform", (d, i) => `translate(${x(i * 24) + 4},${y(0) + 28}) rotate(-56)`)
  .attr("text-anchor", "end")
  .style("font", "19.5px 'DejaVu Sans'").attr("fill", "#595959")
  .text(d => d)

// y axis title
const yt = svg.append("text")
  .attr("transform", "translate(28,535) rotate(-90)")
  .attr("text-anchor", "middle")
  .style("font", "24px Lato").attr("fill", "#595959")
yt.append("tspan").text("concentration O")
yt.append("tspan").attr("baseline-shift", "sub").style("font-size", "16px").text("2")
yt.append("tspan").text(" (mg/L)")

// chart title (cut at the top, as in the original)
const tt = svg.append("text")
  .attr("x", 1016).attr("y", 7)
  .attr("text-anchor", "middle")
  .style("font", "34px Lato").attr("fill", "#595959")
tt.append("tspan").text("Suivi de la concentration en O")
tt.append("tspan").attr("baseline-shift", "sub").style("font-size", "23px").text("2")

/*
------------------------------
METHOD: draw the series
------------------------------
*/
const line = d3.line()
  .defined(d => d[1] != null)
  .x(d => x(d[0]))
  .y(d => y(d[1]))

seriesData.forEach(function(data, i) {
  const g = svg.append("g")
  g.append("path")
    .datum(data)
    .attr("fill", "none")
    .attr("stroke", seriesColors[i])
    .attr("stroke-width", 2.8)
    .attr("stroke-linejoin", "round")
    .attr("stroke-linecap", "round")
    .attr("d", line)
  g.selectAll("circle")
    .data(data.filter(d => d[1] != null))
    .join("circle")
    .attr("cx", d => x(d[0]))
    .attr("cy", d => y(d[1]))
    .attr("r", 2.3)
    .attr("fill", seriesColors[i])
})

/*
------------------------------
METHOD: legend
------------------------------
*/
const legendX = [193, 623, 1054, 1485]
const legendY = [44, 87]
const legendItems = seriesNames.map((n, i) => ({ name: n, color: seriesColors[i], col: i % 4, row: Math.floor(i / 4) }))

const legend = svg.append("g").selectAll("g").data(legendItems).join("g")
  .attr("transform", d => `translate(${legendX[d.col]},${legendY[d.row]})`)
legend.append("line")
  .attr("x1", 0).attr("x2", 53)
  .attr("stroke", d => d.color).attr("stroke-width", 3.5)
legend.append("circle")
  .attr("cx", 26.5).attr("r", 3.2).attr("fill", d => d.color)
legend.append("text")
  .attr("x", 58).attr("dy", "0.35em")
  .style("font", "22px Lato").style("white-space", "pre").attr("fill", "#595959")
  .text(d => d.name)

// Pluie (double arrow)
const pl = svg.append("g").attr("transform", `translate(${legendX[3]},${legendY[1]})`)
pl.append("path")
  .attr("d", "M0,0 L13,-8 L13,-3 L38,-3 L38,-8 L51,0 L38,8 L38,3 L13,3 L13,8 Z")
  .attr("fill", "#5b9bd5")
pl.append("text")
  .attr("x", 58).attr("dy", "0.35em")
  .style("font", "22px Lato").attr("fill", "#595959")
  .text("Pluie")

/*
------------------------------
METHOD: info box
------------------------------
*/
const boxFont = "21px 'Liberation Sans'"
const box = svg.append("g")
box.append("rect")
  .attr("x", 731).attr("y", 133).attr("width", 454).attr("height", 122)
  .attr("fill", "#fff8e7").attr("stroke", "#262626").attr("stroke-width", 1)
box.append("text")
  .attr("x", 752).attr("y", 163)
  .style("font", boxFont).style("text-decoration", "underline")
  .text("Débit et température de la Seine")
box.append("text").attr("x", 752).attr("y", 204)
  .style("font", boxFont).text("Débit à Paris Austerlitz")
box.append("text").attr("x", 752).attr("y", 229)
  .style("font", boxFont).text("Température à Bougival")
box.append("text").attr("x", 997).attr("y", 204)
  .style("font", boxFont).text(":")
box.append("text").attr("x", 997).attr("y", 229)
  .style("font", boxFont).text(":")
const deb = box.append("text").attr("x", 1016).attr("y", 204)
  .style("font", boxFont)
deb.append("tspan").text("94 m")
deb.append("tspan").attr("baseline-shift", "super").style("font-size", "13px").text("3")
deb.append("tspan").text("/s")
box.append("text").attr("x", 1016).attr("y", 229)
  .style("font", boxFont).text("20.3 °C")
</script>
</body>
</html>
